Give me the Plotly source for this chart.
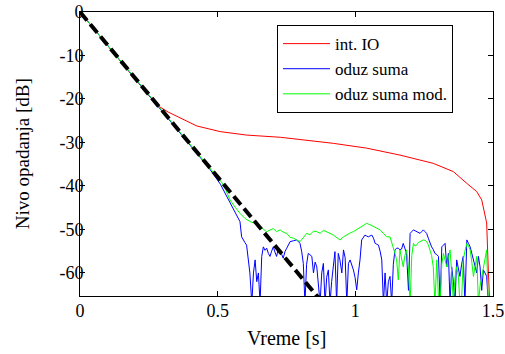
import plotly.graph_objects as go

# ---- data ----
t_red = [0, 0.1, 0.2, 0.279, 0.32, 0.363, 0.424, 0.509, 0.605, 0.727, 0.799, 0.92,
         1.041, 1.162, 1.283, 1.356, 1.405, 1.441, 1.459, 1.467, 1.477, 1.483, 1.488]
v_red = [0, -7.7, -15.3, -21.4, -23.0, -24.4, -26.2, -27.5, -28.3, -28.8, -29.3, -30.2,
         -31.3, -32.9, -34.8, -36.7, -39.4, -41.3, -43.2, -45.5, -48.5, -59.3, -67]

t_blue = [0, 0.1, 0.2, 0.3, 0.4, 0.47, 0.51, 0.533, 0.545, 0.553,
          0.563, 0.572, 0.581, 0.587, 0.593, 0.599, 0.605, 0.611, 0.617, 0.624,
          0.63, 0.636, 0.642, 0.648, 0.654, 0.66, 0.666, 0.672, 0.678, 0.684,
          0.69, 0.696, 0.702, 0.708, 0.714, 0.72, 0.727, 0.733, 0.738, 0.745,
          0.751, 0.757, 0.763, 0.775, 0.787, 0.799, 0.805, 0.811, 0.817, 0.823,
          0.829, 0.835, 0.842, 0.848, 0.854, 0.86, 0.866, 0.872, 0.878, 0.884,
          0.89, 0.896, 0.902, 0.908, 0.914, 0.92, 0.926, 0.932, 0.938, 0.944,
          0.951, 0.957, 0.963, 0.969, 0.975, 0.981, 0.987, 0.993, 0.999, 1.005,
          1.011, 1.017, 1.023, 1.029, 1.035, 1.041, 1.047, 1.053, 1.06, 1.066,
          1.072, 1.078, 1.084, 1.09, 1.096, 1.102, 1.108, 1.114, 1.12, 1.126,
          1.132, 1.138, 1.144, 1.15, 1.156, 1.162, 1.168, 1.174, 1.18, 1.186,
          1.193, 1.199, 1.205, 1.211, 1.217, 1.223, 1.229, 1.235, 1.241, 1.247,
          1.253, 1.259, 1.265, 1.271, 1.277, 1.283, 1.289, 1.296, 1.302, 1.308,
          1.314, 1.32, 1.326, 1.332, 1.338, 1.344, 1.35, 1.356, 1.362, 1.368,
          1.374, 1.38, 1.386, 1.392, 1.398, 1.405, 1.411, 1.417, 1.423, 1.429,
          1.435, 1.441, 1.447, 1.453, 1.459, 1.465, 1.471, 1.477, 1.483]
v_blue = [0, -7.7, -15.3, -23.0, -30.6, -36.0, -39.6, -42.5, -44.0, -45.0,
          -46.3, -47.2, -48.2, -51.7, -52.5, -53.0, -53.6, -57.0, -60.0, -67,
          -60, -57, -62, -60, -67, -56.2, -54.0, -54.8, -54.3, -55.5,
          -56.2, -55.0, -54.0, -55.2, -56.2, -54.5, -55.1, -55.8, -56.6, -55.0,
          -54.3, -53.5, -52.8, -52.6, -52.4, -53.2, -55, -57.8, -67, -58,
          -55.5, -55.8, -56.2, -60, -57.5, -58.6, -62, -67, -60, -57.8,
          -67, -61, -59.3, -67, -62, -58, -55.1, -67, -55.5, -57,
          -60, -54.7, -56.5, -67, -57.8, -57, -58, -59.3, -61, -63.9,
          -60, -57, -52.4, -51.8, -51.3, -51.5, -51.7, -51.5, -51.3, -52,
          -53.2, -53.4, -53.6, -55, -57, -67, -60, -67, -62, -60.8,
          -67, -58, -54.7, -54.3, -54.3, -54.7, -54.5, -53.2, -54.2, -55.5,
          -64, -50.9, -50.5, -50.1, -50.3, -50.5, -50.7, -50.9, -50.5, -50.1,
          -50.5, -50.9, -52, -53.2, -54, -54.6, -55.5, -55.8, -56.2, -67,
          -54, -53.6, -53.2, -58.6, -55.5, -67, -58.6, -62, -67, -57,
          -59, -60.8, -58, -56.2, -67, -52.4, -53.2, -54, -55.5, -57,
          -58.5, -60, -56.2, -58.6, -64, -59.3, -60, -60.8, -67]

t_green = [0, 0.1, 0.2, 0.3, 0.4, 0.47, 0.515, 0.53, 0.545, 0.56,
           0.581, 0.6, 0.618, 0.635, 0.654, 0.665, 0.678, 0.69, 0.702, 0.714,
           0.727, 0.74, 0.751, 0.763, 0.775, 0.787, 0.799, 0.811, 0.823, 0.835,
           0.848, 0.86, 0.872, 0.884, 0.896, 0.908, 0.92, 0.932, 0.944, 0.957,
           0.969, 0.981, 0.993, 1.005, 1.017, 1.029, 1.041, 1.053, 1.066, 1.078,
           1.09, 1.102, 1.114, 1.126, 1.138, 1.144, 1.15, 1.156, 1.162, 1.168,
           1.174, 1.18, 1.186, 1.193, 1.199, 1.205, 1.211, 1.217, 1.223, 1.229,
           1.235, 1.241, 1.247, 1.253, 1.259, 1.265, 1.271, 1.277, 1.283, 1.289,
           1.296, 1.302, 1.308, 1.314, 1.32, 1.326, 1.332, 1.338, 1.344, 1.35,
           1.356, 1.362, 1.368, 1.374, 1.38, 1.386, 1.392, 1.398, 1.405, 1.411,
           1.417, 1.423, 1.429, 1.435, 1.441, 1.447, 1.453, 1.459, 1.465, 1.471,
           1.477, 1.483, 1.487]
v_green = [0, -7.6, -15.2, -22.8, -30.4, -35.6, -39.2, -41.0, -43.2, -44.6,
           -46.3, -47.5, -48.2, -48.6, -49.3, -49.9, -50.5, -50.2, -49.8, -50.5,
           -50.1, -50.7, -50.9, -51.8, -52.0, -52.4, -52.8, -51.9, -50.9, -51.2,
           -50.4, -50.5, -50.9, -50.2, -50.5, -50.9, -51.3, -51.9, -52.4, -51.7,
           -51.2, -50.8, -50.5, -50.0, -49.7, -49.2, -48.6, -48.9, -49.3, -49.6,
           -50.1, -50.9, -51.7, -51.7, -54, -55.5, -57, -61.6, -54.7, -56.5,
           -58.6, -56, -54.7, -59, -67, -56, -53.2, -53.8, -53.6, -53.0,
           -52.8, -52.6, -52.4, -52.5, -52.8, -53.5, -54.7, -56, -58.6, -67,
           -57, -66, -67, -58, -55.5, -56.8, -58.6, -56.5, -54.7, -60,
           -67, -61, -58.6, -60.5, -67, -66, -57, -55, -53.2, -53.8,
           -54.7, -57.5, -60.8, -58.5, -56.2, -67, -63, -61, -58.6, -56.5,
           -54.7, -67, -67]

t_fit = [0, 0.87]
v_fit = [0, -66]

x_ticks = [0, 0.5, 1, 1.5]
x_ticklabels = ["0", "0.5", "1", "1.5"]
y_ticks = [0, -10, -20, -30, -40, -50, -60]
y_ticklabels = ["0", "-10", "-20", "-30", "-40", "-50", "-60"]

FONT = "Liberation Serif"

fig = go.Figure()
fig.add_trace(go.Scatter(x=t_red, y=v_red, mode="lines", name="int. IO",
                         line=dict(color="#ff0000", width=1)))
fig.add_trace(go.Scatter(x=t_blue, y=v_blue, mode="lines", name="oduz suma",
                         line=dict(color="#0000ff", width=1)))
fig.add_trace(go.Scatter(x=t_green, y=v_green, mode="lines", name="oduz suma mod.",
                         line=dict(color="#00ff00", width=1)))
fig.add_trace(go.Scatter(x=t_fit, y=v_fit, mode="lines", showlegend=False,
                         line=dict(color="#000000", width=4, dash="11px,5px")))

axis_common = dict(showline=True, linecolor="black", linewidth=1, mirror="ticks",
                   ticks="inside", ticklen=5, tickcolor="black", showgrid=False,
                   zeroline=False, automargin=False,
                   tickfont=dict(family=FONT, size=18, color="black"))

fig.update_xaxes(range=[0, 1.5], tickvals=x_ticks, ticktext=x_ticklabels,
                 ticklabelstandoff=-2, **axis_common)
fig.update_yaxes(range=[-65.3, 0], tickvals=y_ticks, ticktext=y_ticklabels,
                 ticklabelstandoff=-8, **axis_common)

fig.update_layout(
    width=505, height=354,
    margin=dict(l=80, r=12, t=12, b=58),
    paper_bgcolor="white", plot_bgcolor="white",
    font=dict(family=FONT, color="black"),
    legend=dict(x=0.477, y=0.954, xanchor="left", yanchor="top",
                bgcolor="white", bordercolor="black", borderwidth=1,
                font=dict(family=FONT, size=17, color="black"),
                itemwidth=47, tracegroupgap=0),
    annotations=[
        dict(text="Vreme [s]", xref="paper", yref="paper", x=0.5, y=-0.148,
             xanchor="center", yanchor="middle", showarrow=False,
             font=dict(family=FONT, size=20, color="black")),
        dict(text="Nivo opadanja [dB]", xref="paper", yref="paper", x=-0.14, y=0.5,
             xanchor="center", yanchor="middle", textangle=-90, showarrow=False,
             font=dict(family=FONT, size=19, color="black")),
    ],
)

fig.write_html("out.html")
